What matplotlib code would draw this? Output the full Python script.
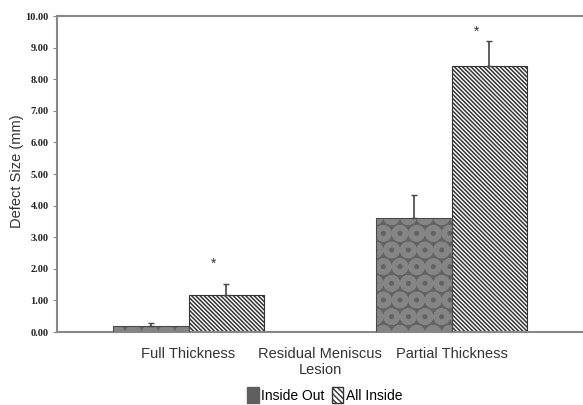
import matplotlib
matplotlib.use("Agg")
import matplotlib.pyplot as plt
import numpy as np
from matplotlib.patches import Patch

categories = ["Full Thickness", "Residual Meniscus\nLesion", "Partial Thickness"]
inside_out = [0.18, 0.0, 3.62]
inside_out_err = [0.12, 0.0, 0.71]
all_inside = [1.17, 0.0, 8.42]
all_inside_err = [0.35, 0.0, 0.80]
star_pos = [(0, 2.15), (2, 9.5)]  # (category, value) for significance marks

x = np.arange(len(categories))
w = 0.575

fig = plt.figure(figsize=(5.83, 4.05), dpi=100)
ax = fig.add_axes([57 / 583, 1 - 332 / 405, 1 - 57 / 583, (332 - 16) / 405])

with plt.rc_context({"hatch.linewidth": 3.8}):
    ax.bar(x - w / 2, inside_out, w, color="#626262", edgecolor="#858585",
           hatch="O", linewidth=0, zorder=2)
ax.bar(x - w / 2, inside_out, w, color="none", edgecolor="#4a4a4a",
       linewidth=0.8, zorder=3)
with plt.rc_context({"hatch.linewidth": 1.1}):
    ax.bar(x + w / 2, all_inside, w, color="white", edgecolor="#333333",
           hatch="\\" * 8, linewidth=0.8, zorder=2)

for xs, vals, errs in [(x - w / 2, inside_out, inside_out_err),
                       (x + w / 2, all_inside, all_inside_err)]:
    for xi, v, e in zip(xs, vals, errs):
        if v > 0:
            ax.errorbar(xi, v, yerr=[[0], [e]], color="#444444", capsize=2.5,
                        elinewidth=1.2, capthick=1.0, zorder=4)

for ci, v in star_pos:
    ax.text(ci + w / 2 - 0.1, v, "*", ha="center", va="center",
            fontsize=10, color="#333333", family="Liberation Sans")

ax.set_xlim(-1, 3)
ax.set_ylim(0, 10)
ax.set_yticks(np.arange(0, 10.01, 1))
ax.set_yticklabels([f"{v:.2f}" for v in np.arange(0, 10.01, 1)],
                   fontsize=7.5, fontweight="bold", family="Liberation Serif",
                   color="#222222")
ax.set_xticks(x)
ax.set_xticklabels(categories, fontsize=10.5, family="Liberation Sans",
                   color="#333333")
ax.tick_params(axis="x", length=0, pad=11)
ax.set_xticks([1], minor=True)
ax.tick_params(axis="x", which="minor", length=3, color="#888888")
ax.tick_params(axis="y", length=3, color="#888888", pad=3)
ax.set_ylabel("Defect Size (mm)", fontsize=10.5, family="Liberation Sans",
              color="#333333")
ax.yaxis.set_label_coords(-0.063, 0.51)

for s in ["left", "bottom", "top"]:
    ax.spines[s].set_color("#888888")
    ax.spines[s].set_linewidth(1.5)
ax.spines["right"].set_visible(False)

handles = [Patch(facecolor="#5f5f5f", edgecolor="#5f5f5f", label="Inside Out"),
           Patch(facecolor="white", edgecolor="#333333", hatch="\\" * 6,
                 label="All Inside")]
fig.legend(handles=handles, loc="lower center", ncol=2, frameon=False,
           bbox_to_anchor=(0.557, -0.025), handlelength=0.8, handleheight=1.3,
           handletextpad=0.2, columnspacing=0.5,
           prop={"family": "Liberation Sans", "size": 10})

fig.savefig("out.png", dpi=100)
